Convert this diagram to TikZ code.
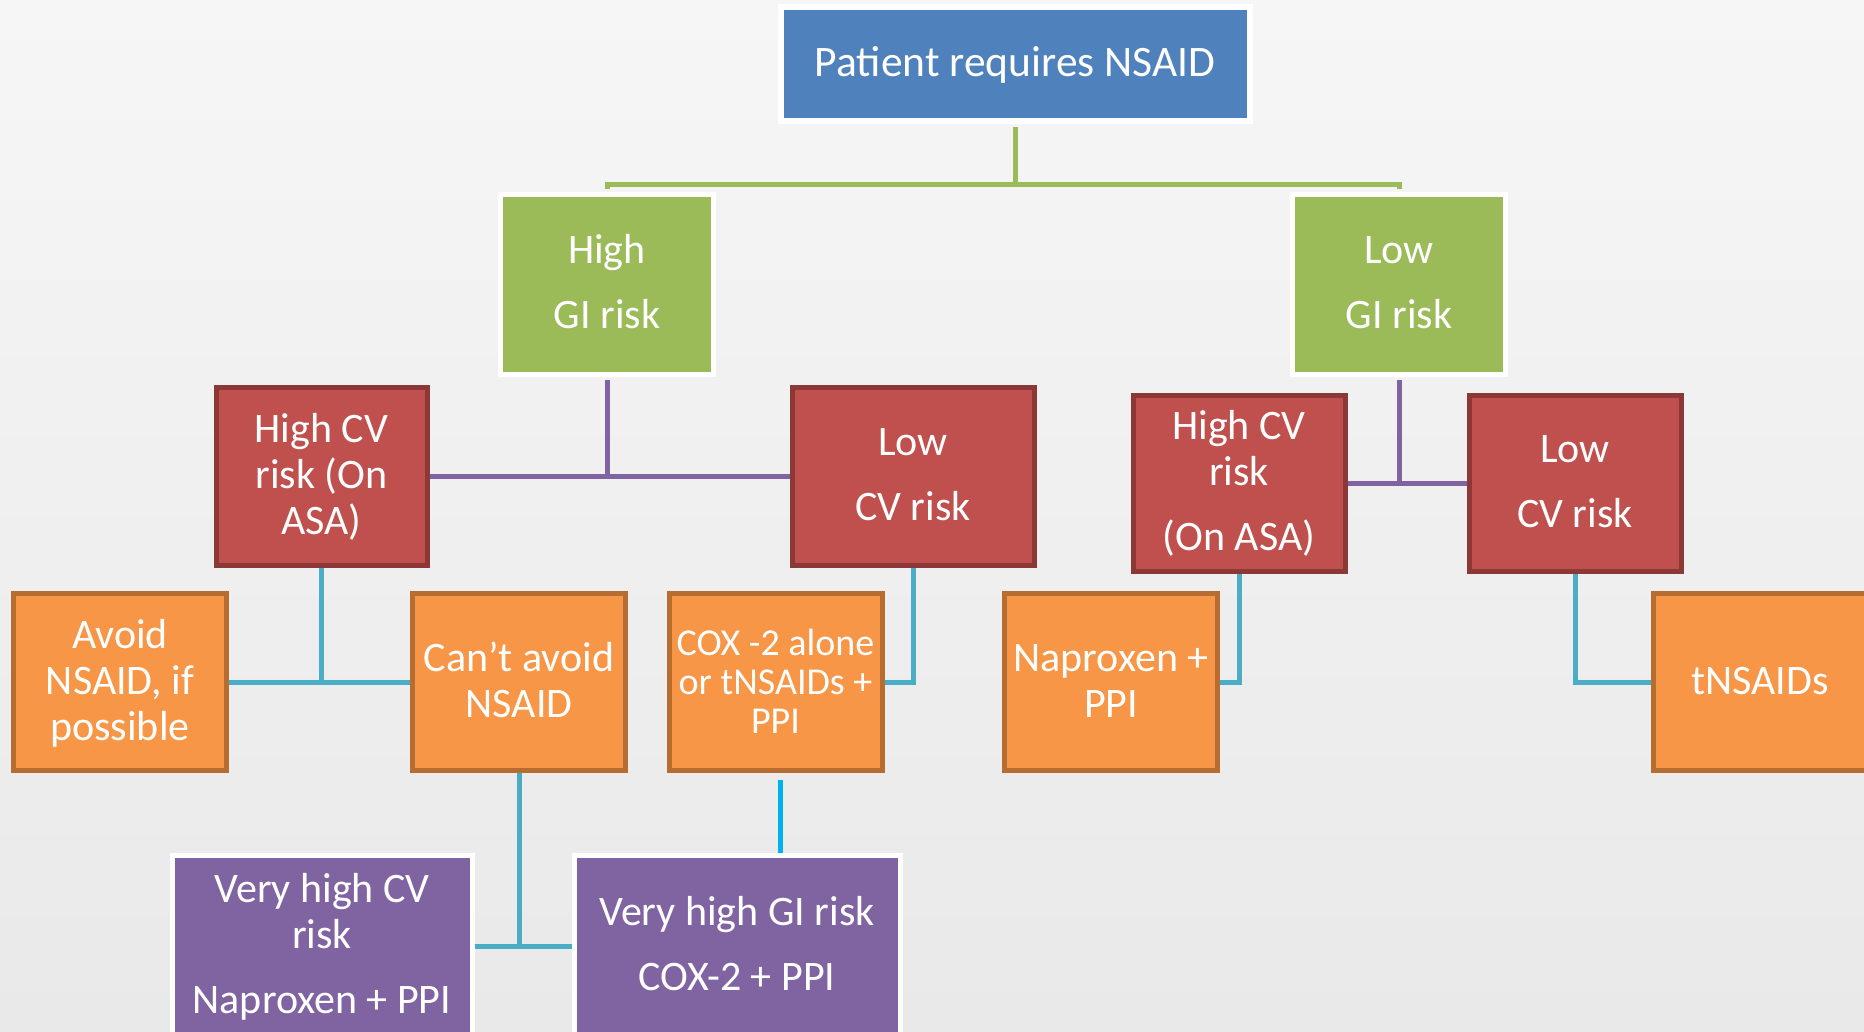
\documentclass[tikz,border=0pt]{standalone}
\usepackage{fontspec}
\setmainfont{Carlito}
\newcommand\ms{\rule[-9pt]{0pt}{42pt}}
\definecolor{bgA}{HTML}{F6F6F6}
\definecolor{bgB}{HTML}{E9E9E9}
\definecolor{cblue}{HTML}{4F81BD}
\definecolor{cgreen}{HTML}{9BBB59}
\definecolor{cred}{HTML}{C0504D}
\definecolor{credb}{HTML}{8C3836}
\definecolor{corange}{HTML}{F79646}
\definecolor{coranged}{HTML}{B76D30}
\definecolor{cpurple}{HTML}{8064A2}
\definecolor{cteal}{HTML}{4BACC6}
\definecolor{cbright}{HTML}{00B0F0}
\begin{document}
\begin{tikzpicture}[x=1pt,y=-1pt,
  basebox/.style={inner sep=0pt, align=center, text=white,
    font=\fontsize{42}{46}\selectfont},
  bluebox/.style={basebox, fill=cblue, draw=white, line width=6pt},
  greenbox/.style={basebox, fill=cgreen, draw=white, line width=5pt, minimum width=213pt, minimum height=180pt},
  redbox/.style={basebox, fill=cred, draw=credb, line width=5pt, minimum height=178pt},
  orangebox/.style={basebox, fill=corange, draw=coranged, line width=5pt, minimum width=213pt, minimum height=177pt},
  purplebox/.style={basebox, fill=cpurple, draw=white, line width=5pt, minimum height=182pt},
  gline/.style={draw=cgreen, line width=5pt},
  pline/.style={draw=cpurple, line width=5pt},
  tline/.style={draw=cteal, line width=5pt},
  bline/.style={draw=cbright, line width=5pt}]
\useasboundingbox (0,0) rectangle (1864,1032);
\shade[top color=bgA, bottom color=bgB] (0,0) rectangle (1864,1032);
\clip (0,0) rectangle (1864,1032);

% top
\node[bluebox, minimum width=469pt, minimum height=114pt, font=\fontsize{43.5}{46}\selectfont] (top) at (1015,64.5) {\ms Patient requires NSAID\ms};

% GI risk
\node[greenbox] (hg) at (607,284.5) {\ms High\\[19pt]GI risk\ms};
\node[greenbox] (lg) at (1399,284.5) {\ms Low\\[19pt]GI risk\ms};

% CV risk
\node[redbox, minimum width=211pt] (hcv) at (321.5,476) {\ms High CV\\risk (On\\ASA)\ms};
\node[redbox, minimum width=242pt] (lcv) at (913,476) {\ms Low\\[19pt]CV risk\ms};
\node[redbox, minimum width=212pt, minimum height=176pt] (hcv2) at (1239,483) {\ms High CV\\risk\\[19pt](On ASA)\ms};
\node[redbox, minimum width=212pt, minimum height=176pt] (lcv2) at (1575,483) {\ms Low\\[19pt]CV risk\ms};

% orange
\node[orangebox] (avoid) at (120,682) {\ms Avoid\\NSAID, if\\possible\ms};
\node[orangebox] (cant) at (519,682) {\ms Can’t avoid\\NSAID\ms};
\node[orangebox, font=\fontsize{38}{39}\selectfont] (cox) at (775.5,682) {\ms COX -2 alone\\or tNSAIDs +\\PPI\ms};
\node[orangebox] (nap) at (1111,682) {\ms Naproxen +\\PPI\ms};
\node[orangebox] (tns) at (1760,682) {\ms tNSAIDs\ms};

% purple
\node[purplebox, minimum width=300pt] (vhcv) at (322,946) {\ms Very high CV\\risk\\[19pt]Naproxen + PPI\ms};
\node[purplebox, minimum width=326pt] (vhgi) at (737,946) {\ms Very high GI risk\\[19pt]COX-2 + PPI\ms};

% connectors
\coordinate (gbus) at (1015,185);
\draw[gline] ([yshift=-3pt]top.south) -- (gbus);
\draw[gline] ([yshift=2.5pt]hg.north) |- (gbus);
\draw[gline] ([yshift=2.5pt]lg.north) |- (gbus);

\draw[pline] ([yshift=-2.5pt]hg.south) -- (hg.south |- hcv.east);
\draw[pline] (hcv.east) -- (lcv.west);
\draw[pline] ([yshift=-2.5pt]lg.south) -- (lg.south |- hcv2.east);
\draw[pline] (hcv2.east) -- (lcv2.west);

\draw[tline] (hcv.south) -- (hcv.south |- avoid.east);
\draw[tline] (avoid.east) -- (cant.west);
\draw[tline] (lcv.south) |- (cox.east);
\draw[tline] (hcv2.south) |- (nap.east);
\draw[tline] (lcv2.south) |- (tns.west);
\draw[tline] (cant.south) -- (cant.south |- vhcv.east);
\draw[tline] (vhcv.east) -- (vhgi.west);
\draw[bline] ([xshift=4.5pt,yshift=-7pt]cox.south) -- ([xshift=4.5pt]cox.south |- vhgi.north);
\end{tikzpicture}
\end{document}
